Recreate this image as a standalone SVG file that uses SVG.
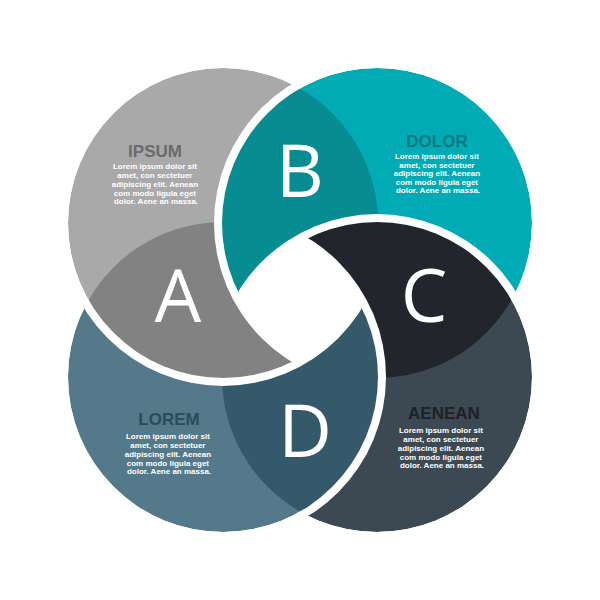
<svg xmlns="http://www.w3.org/2000/svg" width="600" height="600" viewBox="0 0 600 600">
  <style>
    .title { font-family: "Liberation Sans", Arial, sans-serif; font-weight: bold; font-size: 17px; text-anchor: middle; }
    .body { font-family: "Liberation Sans", Arial, sans-serif; font-weight: bold; font-size: 8px; fill: #ffffff; text-anchor: middle; }
    .letter { font-family: "Open Sans", "DejaVu Sans", sans-serif; font-weight: 400; font-size: 74px; fill: #ffffff; text-anchor: middle; }
  </style>
  <defs>
    <mask id="mA" maskUnits="userSpaceOnUse" x="0" y="0" width="600" height="600">
      <circle cx="223" cy="223" r="155" fill="#fff"/>
      <circle cx="377" cy="223" r="163" fill="#000"/>
    </mask>
    <mask id="mB" maskUnits="userSpaceOnUse" x="0" y="0" width="600" height="600">
      <circle cx="377" cy="223" r="155" fill="#fff"/>
      <circle cx="377" cy="377" r="163" fill="#000"/>
    </mask>
    <mask id="mC" maskUnits="userSpaceOnUse" x="0" y="0" width="600" height="600">
      <circle cx="377" cy="377" r="155" fill="#fff"/>
      <circle cx="223" cy="377" r="163" fill="#000"/>
    </mask>
    <mask id="mD" maskUnits="userSpaceOnUse" x="0" y="0" width="600" height="600">
      <circle cx="223" cy="377" r="155" fill="#fff"/>
      <circle cx="223" cy="223" r="163" fill="#000"/>
    </mask>
  </defs>
  <rect width="600" height="600" fill="#ffffff"/>

  <g id="node-a">
    <g mask="url(#mA)">
      <circle cx="223" cy="223" r="155" fill="#a9a9a9"/>
      <circle cx="223" cy="377" r="155" fill="#828282"/>
    </g>
    <text class="title" x="155" y="157" fill="#6b6b6b">IPSUM</text>
    <text class="body">
      <tspan x="156" y="169">Lorem ipsum dolor sit</tspan>
      <tspan x="156" y="178">amet, con sectetuer</tspan>
      <tspan x="156" y="187">adipiscing elit. Aenean</tspan>
      <tspan x="156" y="195.5">com modo ligula eget</tspan>
      <tspan x="156" y="204">dolor. Aene an massa.</tspan>
    </text>
    <text class="letter" x="178" y="322">A</text>
  </g>

  <g id="node-b">
    <g mask="url(#mB)">
      <circle cx="377" cy="223" r="155" fill="#00abb6"/>
      <circle cx="223" cy="223" r="155" fill="#078c92"/>
    </g>
    <text class="title" x="437" y="147" fill="#087a80">DOLOR</text>
    <text class="body">
      <tspan x="438" y="159">Lorem ipsum dolor sit</tspan>
      <tspan x="438" y="167.5">amet, con sectetuer</tspan>
      <tspan x="438" y="176">adipiscing elit. Aenean</tspan>
      <tspan x="438" y="184.5">com modo ligula eget</tspan>
      <tspan x="438" y="193">dolor. Aene an massa.</tspan>
    </text>
    <text class="letter" x="300" y="197">B</text>
  </g>

  <g id="node-c">
    <g mask="url(#mC)">
      <circle cx="377" cy="377" r="155" fill="#3c4852"/>
      <circle cx="377" cy="223" r="155" fill="#22262c"/>
    </g>
    <text class="title" x="444" y="419" fill="#1d2126">AENEAN</text>
    <text class="body">
      <tspan x="442" y="433">Lorem ipsum dolor sit</tspan>
      <tspan x="442" y="442">amet, con sectetuer</tspan>
      <tspan x="442" y="451">adipiscing elit. Aenean</tspan>
      <tspan x="442" y="459.5">com modo ligula eget</tspan>
      <tspan x="442" y="468">dolor. Aene an massa.</tspan>
    </text>
    <text class="letter" x="424" y="322">C</text>
  </g>

  <g id="node-d">
    <g mask="url(#mD)">
      <circle cx="223" cy="377" r="155" fill="#54798a"/>
      <circle cx="377" cy="377" r="155" fill="#34596a"/>
    </g>
    <text class="title" x="169" y="425" fill="#2c4b59">LOREM</text>
    <text class="body">
      <tspan x="169" y="439">Lorem ipsum dolor sit</tspan>
      <tspan x="169" y="448">amet, con sectetuer</tspan>
      <tspan x="169" y="457">adipiscing elit. Aenean</tspan>
      <tspan x="169" y="465.5">com modo ligula eget</tspan>
      <tspan x="169" y="474">dolor. Aene an massa.</tspan>
    </text>
    <text class="letter" x="305" y="457">D</text>
  </g>

  <g id="connectors"></g>
</svg>
